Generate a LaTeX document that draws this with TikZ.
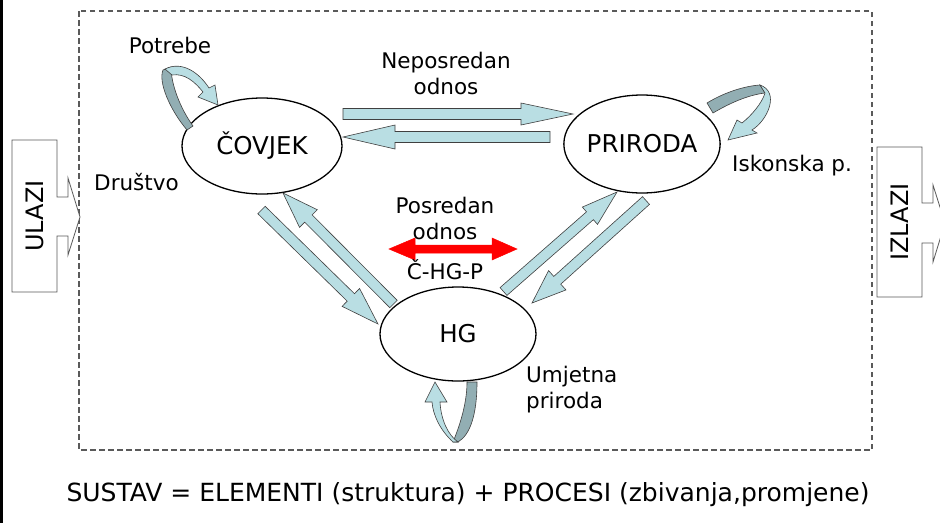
\documentclass[tikz,border=0pt]{standalone}
\usepackage{fontspec}
\setmainfont{DejaVu Sans}
\usetikzlibrary{calc,shapes.geometric}
\definecolor{lblue}{RGB}{185,222,227}
\definecolor{dblue}{RGB}{146,174,179}
\definecolor{framegray}{RGB}{90,90,90}
\newcommand{\blkarrow}[6]{%
  \coordinate (hb) at ($(#3)!#6!(#2)$);
  \path[#1] ($(#2)!#4!90:(#3)$) -- ($(hb)!#4!90:(#3)$) -- ($(hb)!#5!90:(#3)$) -- (#3)
    -- ($(hb)!#5!-90:(#3)$) -- ($(hb)!#4!-90:(#3)$) -- ($(#2)!#4!-90:(#3)$) -- cycle;}
\begin{document}
\begin{tikzpicture}[x=1pt,y=-1pt,
  ell/.style={ellipse, draw=black, line width=1.3pt, fill=white, inner sep=0pt, font=\fontsize{24.5}{28}\selectfont},
  lbl/.style={font=\fontsize{21.5}{26}\selectfont, align=center, inner sep=0pt},
  barrow/.style={fill=lblue, draw=black!75, line width=0.6pt, line join=miter},
  rarrow/.style={fill=red, draw=red, line width=0.5pt},
  frame/.style={draw=framegray, line width=1.1pt, dash pattern=on 5.5pt off 3.5pt},
  callout/.style={draw=black!65, line width=0.8pt, fill=white},
  loopl/.style={fill=lblue, draw=black!75, line width=0.6pt},
  loopd/.style={fill=dblue, draw=black!75, line width=0.6pt},
  bigtxt/.style={font=\fontsize{24}{28}\selectfont, inner sep=0pt}]
\useasboundingbox (0,0) rectangle (940,523);
\fill[white] (0,0) rectangle (940,523);
\fill[black] (0,0) rectangle (3,523);
% frame
\draw[frame] (79,11) rectangle (872,450);
% inputs / outputs
\draw[callout] (12,140) -- (57,140) -- (57,197) -- (68,197) -- (68,178) -- (80,217) -- (68,255) -- (68,236) -- (57,236) -- (57,292) -- (12,292) -- cycle;
\node[bigtxt, rotate=90] (ulazi) at (35,216) {ULAZI};
\draw[callout] (877,147) -- (922,147) -- (922,203) -- (933,203) -- (933,185) -- (945,223) -- (933,262) -- (933,243) -- (922,243) -- (922,297) -- (877,297) -- cycle;
\node[bigtxt, rotate=90] (izlazi) at (900,222) {IZLAZI};
% elements
\node[ell, minimum width=160pt, minimum height=96pt] (cov) at (262,146) {ČOVJEK};
\node[ell, minimum width=156pt, minimum height=98pt] (pri) at (642,144) {PRIRODA};
\node[ell, minimum width=156pt, minimum height=94pt] (hg) at (458,334) {HG};
% arrow end points
\coordinate (a1t) at (343,114); \coordinate (a1h) at (573,114);
\coordinate (a2t) at (550,137); \coordinate (a2h) at (343,137);
\coordinate (a3t) at (261.5,210); \coordinate (a3h) at (378,324);
\coordinate (a4t) at (393.5,304); \coordinate (a4h) at (283,193);
\coordinate (a5t) at (503.5,291.5); \coordinate (a5h) at (617,192);
\coordinate (a6t) at (646,200.5); \coordinate (a6h) at (532,303);
\coordinate (r1) at (389,249); \coordinate (r2) at (517,249);
\blkarrow{barrow}{a1t}{a1h}{5.5pt}{11pt}{52pt}
\blkarrow{barrow}{a2t}{a2h}{5.5pt}{12pt}{52pt}
\blkarrow{barrow}{a3t}{a3h}{5.2pt}{12.5pt}{38pt}
\blkarrow{barrow}{a4t}{a4h}{5.2pt}{12.5pt}{36pt}
\blkarrow{barrow}{a5t}{a5h}{5.2pt}{11.5pt}{36pt}
\blkarrow{barrow}{a6t}{a6h}{5.2pt}{13pt}{34pt}
% red double arrow
\path[rarrow] (r1) -- (415,238) -- (415,245) -- (492,245) -- (492,238) -- (r2) -- (492,260) -- (492,253) -- (415,253) -- (415,260) -- cycle;
% self loops
\path[loopd] (163,70) .. controls (158,82) and (170,110) .. (187,130) -- (193,126) .. controls (180,108) and (171,84) .. (171,67) -- cycle;
\path[loopl] (165,69) .. controls (183,60) and (200,74) .. (209,88) -- (215,85) -- (218,105) -- (198,97) -- (203,92) .. controls (195,82) and (185,73) .. (172,75) -- cycle;
\path[loopd] (707,103) .. controls (725,92) and (745,86) .. (760,85) -- (765,93) .. controls (748,95) and (730,103) .. (713,113) -- cycle;
\path[loopl] (760,85) .. controls (780,92) and (768,120) .. (752,130) -- (757,133) -- (728,140) -- (737,120) -- (742,123) .. controls (752,115) and (762,103) .. (765,93) -- cycle;
\path[loopd] (467,382) -- (477,382) .. controls (477,415) and (470,435) .. (458,442) -- (453,442) .. controls (462,420) and (467,400) .. (467,382) -- cycle;
\path[loopl] (453,442) .. controls (440,430) and (433,415) .. (432,402) -- (425,402) -- (435,382) -- (447,402) -- (440,402) .. controls (441,420) and (448,435) .. (458,442) -- cycle;
% labels
\node[lbl] (neposr) at (446,73) {Neposredan\\odnos};
\node[lbl] (posr) at (445,218) {Posredan\\odnos};
\node[lbl] (chgp) at (445,270) {Č-HG-P};
\node[lbl] (potr) at (170,45) {Potrebe};
\node[lbl, anchor=west] (drus) at (94,182) {Društvo};
\node[lbl, anchor=west] (isk) at (732,166) {Iskonska p.};
\node[lbl, anchor=west, align=left] (umj) at (526,390) {Umjetna\\priroda};
\node[font=\fontsize{25}{28}\selectfont, inner sep=0pt] (sustav) at (468,495) {SUSTAV = ELEMENTI (struktura) + PROCESI (zbivanja,promjene)};
\end{tikzpicture}
\end{document}
